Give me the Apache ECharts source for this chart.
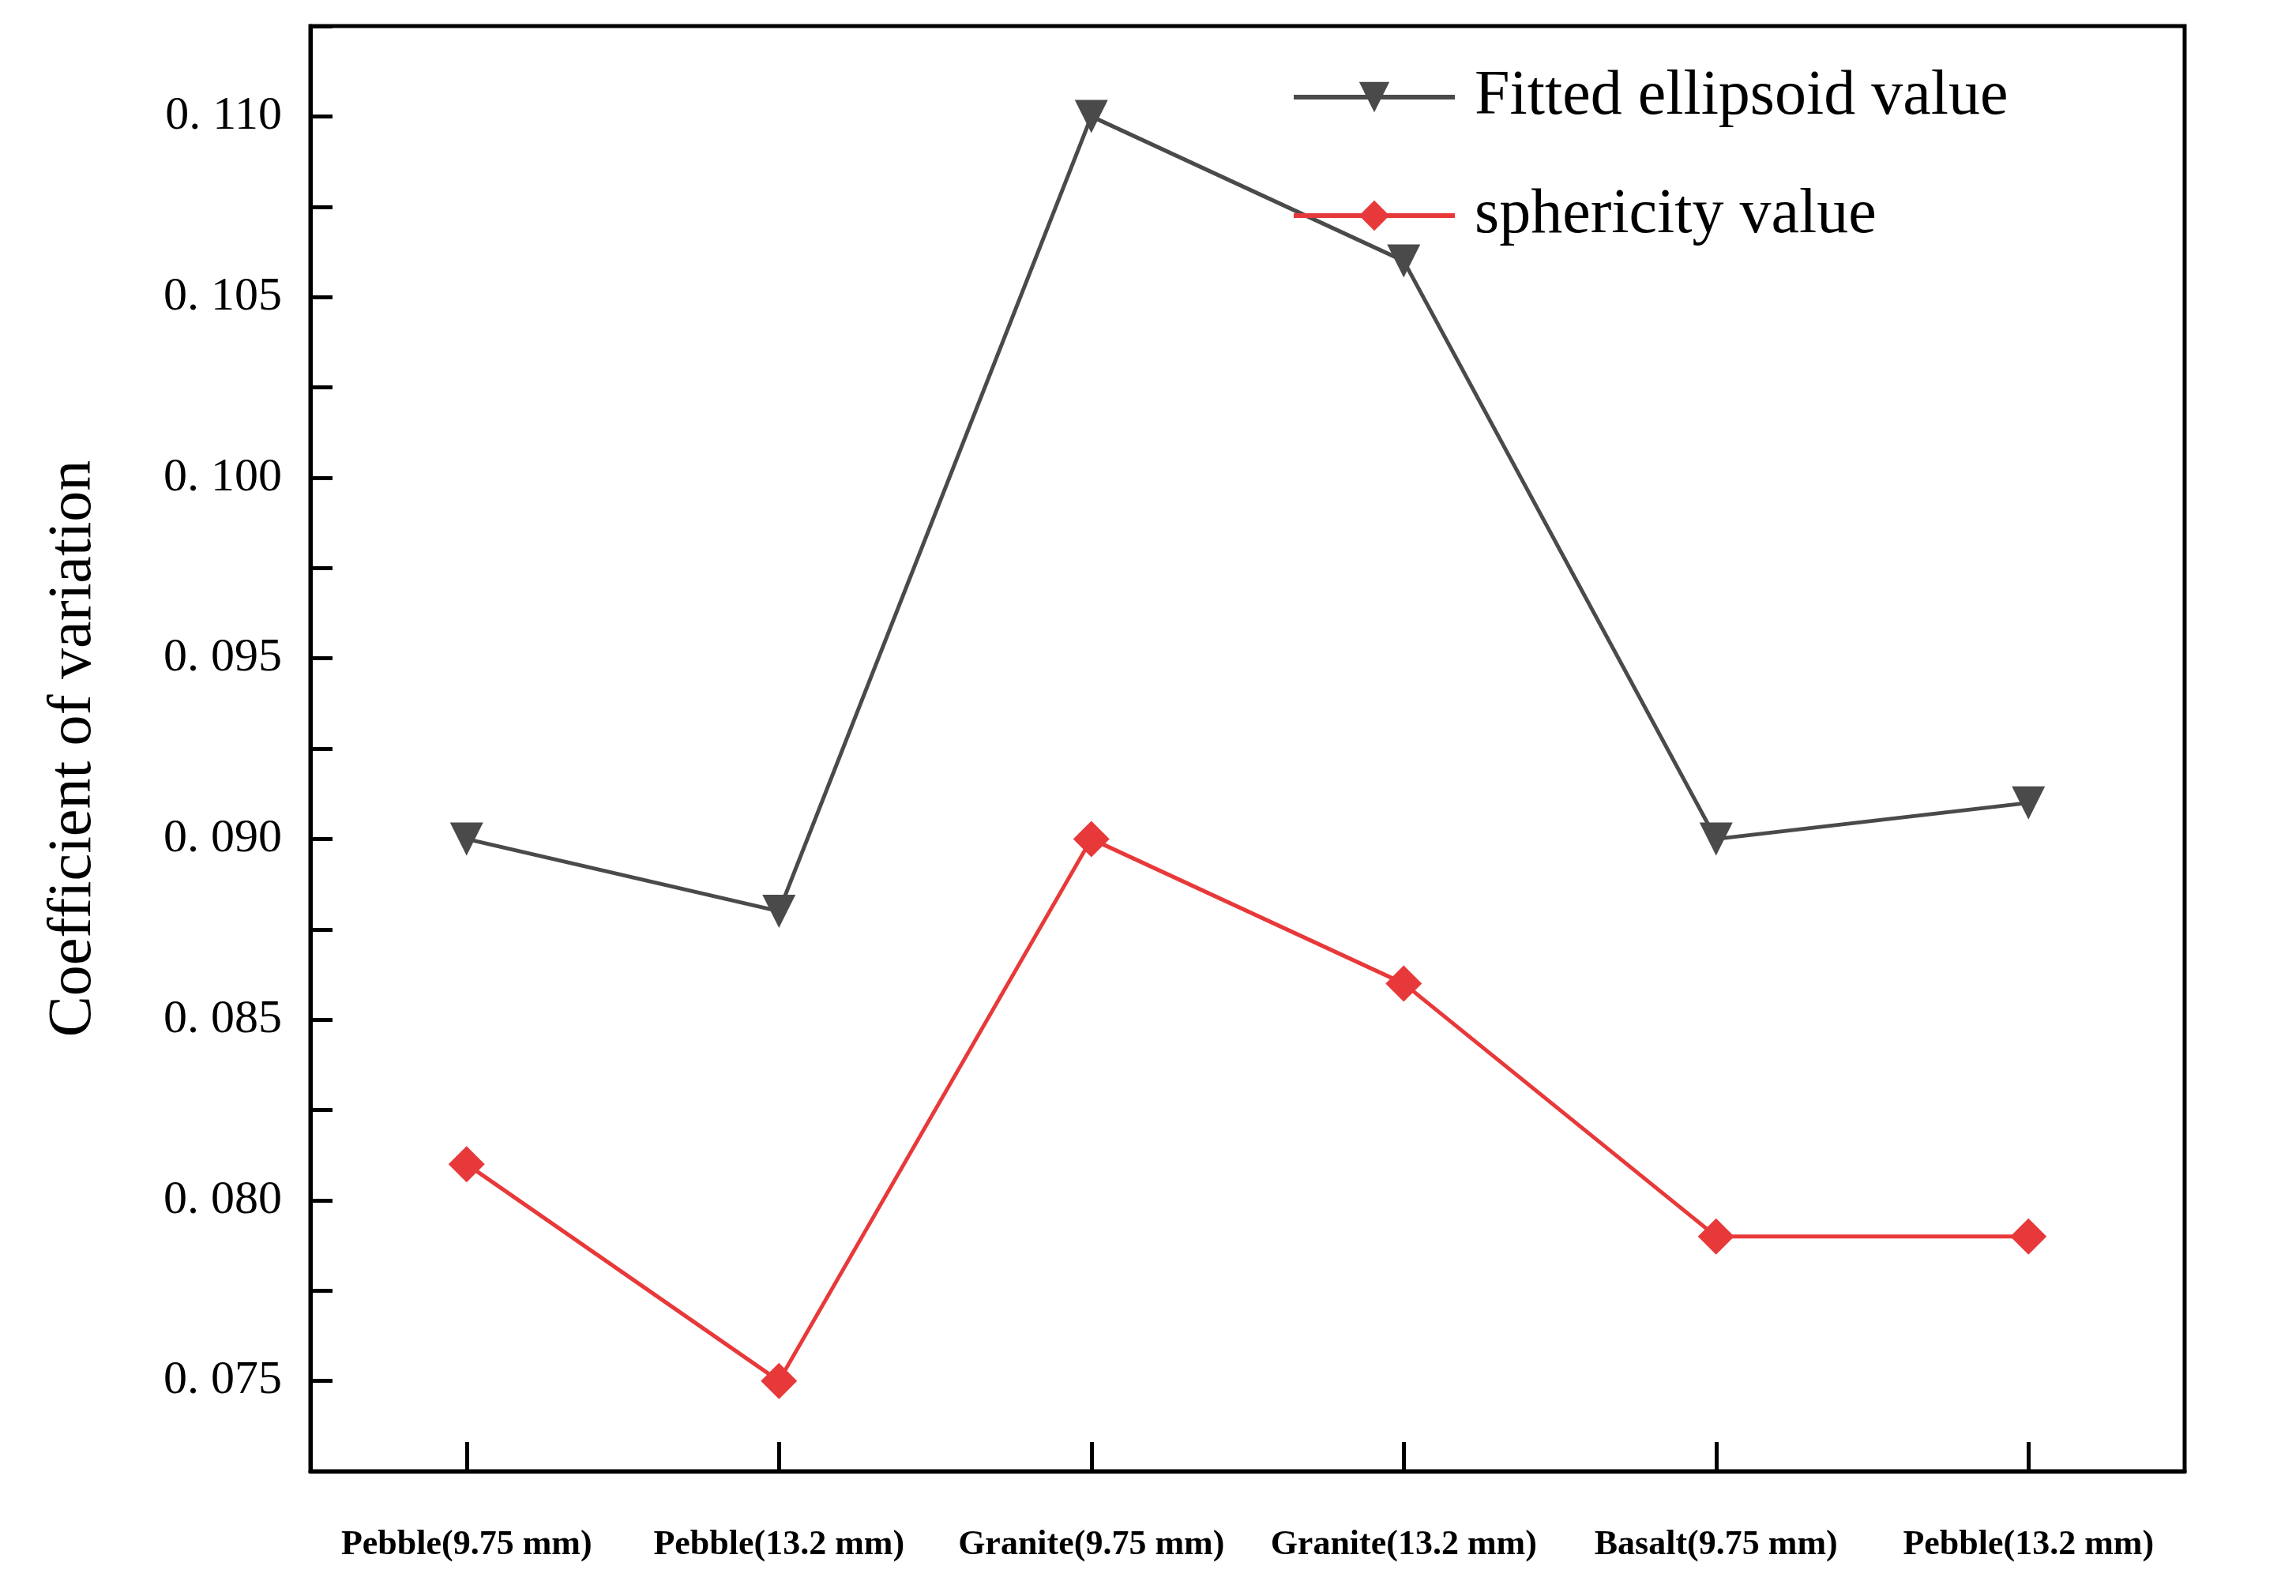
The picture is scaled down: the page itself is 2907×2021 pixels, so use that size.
<!DOCTYPE html>
<html><head><meta charset="utf-8">
<script src="https://cdn.jsdelivr.net/npm/echarts@6/dist/echarts.min.js"></script>
<style>html,body{margin:0;padding:0;background:#fff}#c{width:2907px;height:2021px}</style>
</head><body><div id="c"></div>
<script>
const categories = ['Pebble(9.75 mm)','Pebble(13.2 mm)','Granite(9.75 mm)','Granite(13.2 mm)','Basalt(9.75 mm)','Pebble(13.2 mm)'];
const fitted = [0.090,0.088,0.110,0.106,0.090,0.091];
const sphericity = [0.081,0.075,0.090,0.086,0.079,0.079];
const yMin = 0.0725, yMax = 0.1125;

const chart = echarts.init(document.getElementById('c'));
const serif = 'Liberation Serif';
chart.setOption({
  backgroundColor:'#fff',
  animation:false,
  grid:{left:393,right:141,top:33,bottom:158,show:true,borderColor:'#000',borderWidth:5,backgroundColor:'transparent'},
  legend:{left:1630,top:78,orient:'vertical',itemWidth:204,itemHeight:48,itemGap:70,
    lineStyle:{width:6},
    textStyle:{fontFamily:serif,fontSize:80,color:'#000',padding:[0,0,0,20]},
    data:['Fitted ellipsoid value','sphericity value']},
  xAxis:{type:'category',data:categories,boundaryGap:true,
    axisLine:{show:true,lineStyle:{color:'#000',width:5}},
    axisTick:{show:true,alignWithLabel:true,inside:true,length:37,lineStyle:{width:5,color:'#000'}},
    axisLabel:{show:true,interval:0,margin:72,fontFamily:serif,fontWeight:'bold',fontSize:44,color:'#000'}},
  yAxis:{type:'value',min:yMin,max:yMax,interval:0.0025,
    name:'Coefficient of variation',nameLocation:'middle',nameGap:260,
    nameTextStyle:{fontFamily:serif,fontSize:78,color:'#000'},
    axisLine:{show:true,lineStyle:{color:'#000',width:5}},
    axisTick:{show:true,inside:true,length:28,lineStyle:{width:5,color:'#000'}},
    splitLine:{show:false},
    axisLabel:{show:true,margin:36,fontFamily:serif,fontSize:60,color:'#000',
      formatter:function(v){const t=Math.round(v*10000);if(t%50!==0)return '';const k=t/10;return '0. '+String(k).padStart(3,'0');}}},
  series:[
    {name:'Fitted ellipsoid value',type:'line',data:fitted,symbol:'triangle',symbolRotate:180,symbolSize:42,
     lineStyle:{color:'#4a4a4a',width:5},itemStyle:{color:'#4a4a4a'}},
    {name:'sphericity value',type:'line',data:sphericity,symbol:'diamond',symbolSize:46,
     lineStyle:{color:'#e8393a',width:5},itemStyle:{color:'#e8393a'}}
  ]
});
</script></body></html>
